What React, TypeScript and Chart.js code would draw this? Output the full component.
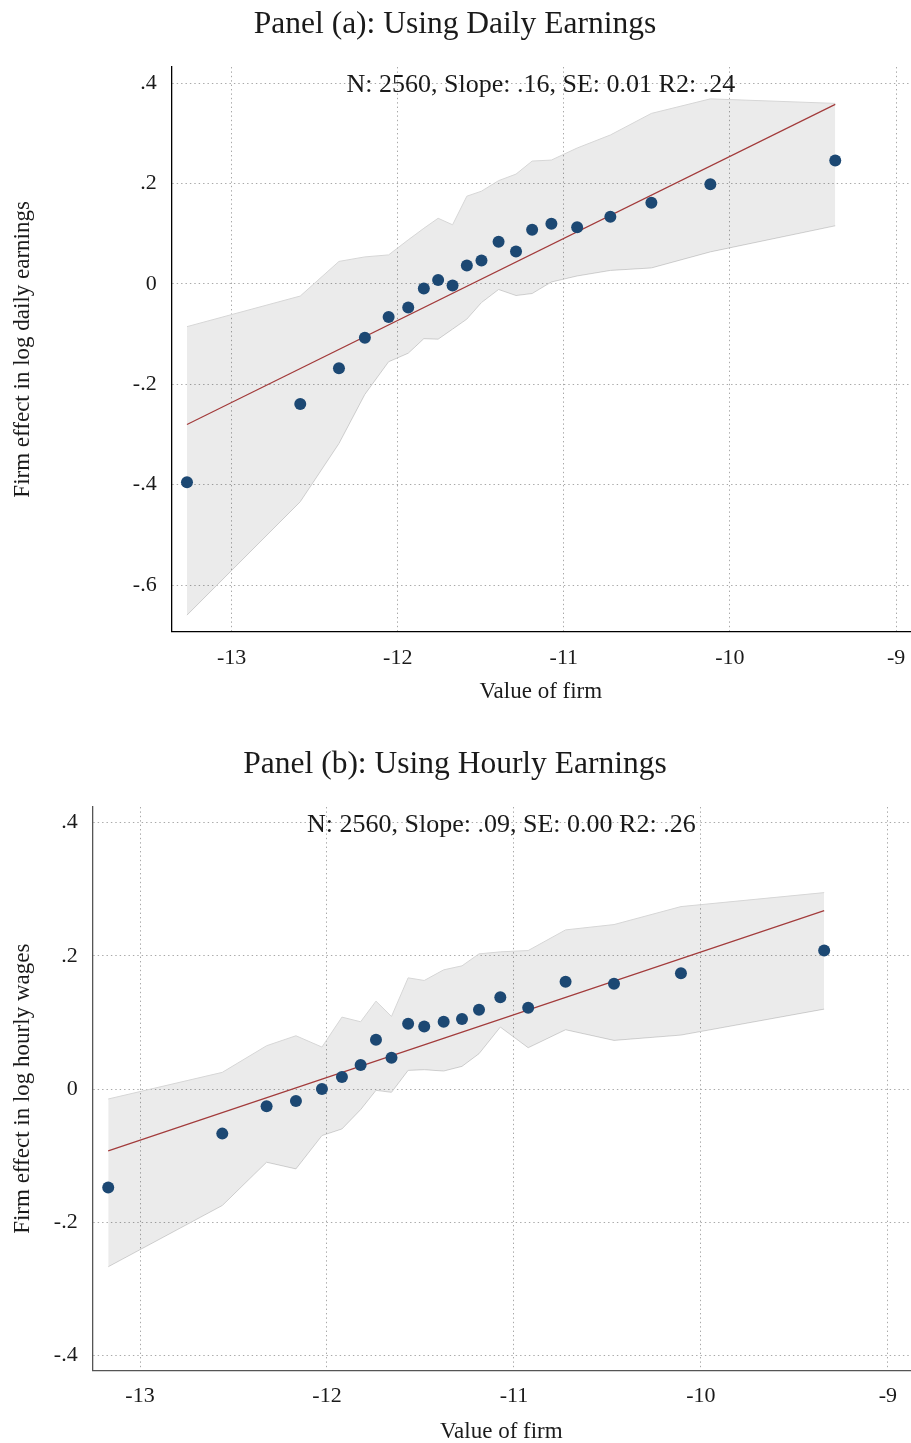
import React, { useEffect, useRef } from "react";
import { Chart, registerables } from "chart.js";

Chart.register(...registerables);

// ---------- Panel (a): daily earnings ----------
const xA = [-13.269, -12.587, -12.354, -12.198, -12.055, -11.937, -11.843, -11.757, -11.670, -11.584, -11.496, -11.393, -11.288, -11.191, -11.075, -10.920, -10.720, -10.473, -10.118, -9.366];
const yA = [-0.395, -0.239, -0.168, -0.107, -0.066, -0.047, -0.009, 0.008, -0.003, 0.037, 0.047, 0.084, 0.065, 0.108, 0.120, 0.113, 0.134, 0.162, 0.199, 0.246];
const upperA = [-0.085, -0.024, 0.045, 0.054, 0.058, 0.088, 0.111, 0.131, 0.118, 0.175, 0.185, 0.206, 0.219, 0.245, 0.247, 0.271, 0.297, 0.340, 0.369, 0.360];
const lowerA = [-0.660, -0.434, -0.318, -0.220, -0.155, -0.138, -0.109, -0.110, -0.090, -0.070, -0.037, -0.011, -0.023, -0.019, 0.004, 0.016, 0.027, 0.032, 0.064, 0.116];
const fitXA = [-13.269, -9.366];
const fitYA = [-0.280, 0.358];
const yTicksA = [-0.6, -0.4, -0.2, 0, 0.2, 0.4];
const yLabelsA = ["-.6", "-.4", "-.2", "0", ".2", ".4"];

// ---------- Panel (b): hourly earnings ----------
const xB = [-13.170, -12.560, -12.323, -12.166, -12.027, -11.920, -11.820, -11.738, -11.655, -11.566, -11.480, -11.376, -11.278, -11.187, -11.073, -10.924, -10.724, -10.465, -10.107, -9.341];
const yB = [-0.148, -0.067, -0.026, -0.018, 0.000, 0.018, 0.036, 0.074, 0.047, 0.098, 0.094, 0.101, 0.105, 0.119, 0.138, 0.122, 0.161, 0.158, 0.174, 0.208];
const upperB = [-0.015, 0.025, 0.065, 0.080, 0.063, 0.108, 0.101, 0.132, 0.109, 0.167, 0.163, 0.179, 0.185, 0.203, 0.206, 0.208, 0.239, 0.247, 0.274, 0.295];
const lowerB = [-0.267, -0.175, -0.110, -0.120, -0.070, -0.060, -0.031, -0.002, -0.005, 0.028, 0.029, 0.027, 0.034, 0.053, 0.093, 0.062, 0.089, 0.073, 0.081, 0.120];
const fitXB = [-13.170, -9.341];
const fitYB = [-0.093, 0.268];
const yTicksB = [-0.4, -0.2, 0, 0.2, 0.4];
const yLabelsB = ["-.4", "-.2", "0", ".2", ".4"];

// ---------- shared x axis ----------
const xTicks = [-13, -12, -11, -10, -9];
const xLabels = ["-13", "-12", "-11", "-10", "-9"];

const FONT = '"Liberation Serif", "Times New Roman", serif';
const TEXT = "#1a1a1a";

const zip = (xs: number[], ys: number[]) => xs.map((x, i) => ({ x, y: ys[i] }));

interface PanelSpec {
  title: string;
  note: string;
  yTitle: string;
  xs: number[];
  ys: number[];
  up: number[];
  lo: number[];
  fx: number[];
  fy: number[];
  yTicks: number[];
  yLabels: string[];
  xMin: number;
  xMax: number;
  yMin: number;
  yMax: number;
  yAxisWidth: number;
  xAxisHeight: number;
  axisColor: string;
}

function makeConfig(p: PanelSpec): any {
  const notePlugin = {
    id: "note",
    afterDraw(chart: any) {
      const { ctx, chartArea } = chart;
      ctx.save();
      ctx.font = `26px ${FONT}`;
      ctx.fillStyle = TEXT;
      ctx.textAlign = "center";
      ctx.textBaseline = "middle";
      ctx.fillText(p.note, (chartArea.left + chartArea.right) / 2, chartArea.top + 18);
      ctx.restore();
    },
  };
  return {
    type: "scatter",
    data: {
      datasets: [
        {
          data: zip(p.xs, p.ys),
          showLine: false,
          pointRadius: 6,
          pointHoverRadius: 6,
          backgroundColor: "#1c4873",
          borderWidth: 0,
        },
        {
          data: zip(p.fx, p.fy),
          showLine: true,
          pointRadius: 0,
          borderColor: "#a23b3b",
          borderWidth: 1.2,
          fill: false,
        },
        {
          data: zip(p.xs, p.up),
          showLine: true,
          pointRadius: 0,
          borderColor: "#d6d6d6",
          borderWidth: 1,
          backgroundColor: "rgba(0,0,0,0.08)",
          fill: "+1",
        },
        {
          data: zip(p.xs, p.lo),
          showLine: true,
          pointRadius: 0,
          borderColor: "#d6d6d6",
          borderWidth: 1,
          fill: false,
        },
      ],
    },
    options: {
      responsive: false,
      animation: false,
      events: [],
      layout: { autoPadding: false, padding: { left: 0, right: 1, top: 0, bottom: 0 } },
      plugins: {
        legend: { display: false },
        tooltip: { enabled: false },
        title: {
          display: true,
          text: p.title,
          color: TEXT,
          font: { family: FONT, size: 31.5, weight: "normal", lineHeight: 1.2 },
          padding: { top: 5.4, bottom: 23.8 },
        },
      },
      scales: {
        x: {
          type: "linear",
          min: p.xMin,
          max: p.xMax,
          afterBuildTicks: (axis: any) => {
            axis.ticks = xTicks.map((v) => ({ value: v }));
          },
          afterFit: (axis: any) => {
            axis.height = p.xAxisHeight;
            axis.paddingLeft = 0;
            axis.paddingRight = 0;
          },
          ticks: {
            autoSkip: false,
            maxRotation: 0,
            padding: 13,
            color: TEXT,
            font: { family: FONT, size: 22 },
            callback: (v: number) => {
              const i = xTicks.indexOf(v);
              return i >= 0 ? xLabels[i] : "";
            },
          },
          grid: {
            drawTicks: false,
            color: "#a8a8a8",
            lineWidth: 1,
          },
          border: { display: true, color: p.axisColor, width: 1.3, dash: [1.4, 3] },
          title: {
            display: true,
            text: "Value of firm",
            color: TEXT,
            font: { family: FONT, size: 23, lineHeight: 1.2 },
            padding: { top: 0, bottom: 14.2 },
          },
        },
        y: {
          type: "linear",
          min: p.yMin,
          max: p.yMax,
          afterBuildTicks: (axis: any) => {
            axis.ticks = p.yTicks.map((v) => ({ value: v }));
          },
          afterFit: (axis: any) => {
            axis.width = p.yAxisWidth;
            axis.paddingTop = 0;
            axis.paddingBottom = 0;
          },
          ticks: {
            autoSkip: false,
            padding: 15,
            color: TEXT,
            font: { family: FONT, size: 22 },
            callback: (v: number) => {
              const i = p.yTicks.indexOf(v);
              return i >= 0 ? p.yLabels[i] : "";
            },
          },
          grid: {
            drawTicks: false,
            color: "#a8a8a8",
            lineWidth: 1,
          },
          border: { display: true, color: p.axisColor, width: 1.3, dash: [1.4, 3] },
          title: {
            display: true,
            text: p.yTitle,
            color: TEXT,
            font: { family: FONT, size: 23, lineHeight: 1.2 },
            padding: { top: 9, bottom: 0 },
          },
        },
      },
    },
    plugins: [notePlugin],
  };
}

const panelA: PanelSpec = {
  title: "Panel (a): Using Daily Earnings",
  note: "N: 2560, Slope: .16, SE: 0.01 R2: .24",
  yTitle: "Firm effect in log daily earnings",
  xs: xA,
  ys: yA,
  up: upperA,
  lo: lowerA,
  fx: fitXA,
  fy: fitYA,
  yTicks: yTicksA,
  yLabels: yLabelsA,
  xMin: -13.361,
  xMax: -8.916,
  yMin: -0.693,
  yMax: 0.4325,
  yAxisWidth: 171.7,
  xAxisHeight: 88.3,
  axisColor: "#000000",
};

const panelB: PanelSpec = {
  title: "Panel (b): Using Hourly Earnings",
  note: "N: 2560, Slope: .09, SE: 0.00 R2: .26",
  yTitle: "Firm effect in log hourly wages",
  xs: xB,
  ys: yB,
  up: upperB,
  lo: lowerB,
  fx: fitXB,
  fy: fitYB,
  yTicks: yTicksB,
  yLabels: yLabelsB,
  xMin: -13.253,
  xMax: -8.882,
  yMin: -0.4228,
  yMax: 0.4236,
  yAxisWidth: 92.7,
  xAxisHeight: 89.5,
  axisColor: "#555555",
};

function Panel({ spec, top }: { spec: PanelSpec; top: number }) {
  const ref = useRef<HTMLCanvasElement | null>(null);
  useEffect(() => {
    if (!ref.current) return;
    const chart = new Chart(ref.current, makeConfig(spec));
    return () => chart.destroy();
  }, [spec]);
  return (
    <div style={{ position: "absolute", left: 0, top, width: 911, height: 720 }}>
      <canvas ref={ref} width={911} height={720} style={{ width: 911, height: 720, display: "block" }} />
    </div>
  );
}

export default function App() {
  return (
    <div
      style={{
        position: "absolute",
        left: 0,
        top: 0,
        width: 911,
        height: 1443,
        overflow: "hidden",
        background: "#ffffff",
      }}
    >
      <Panel spec={panelA} top={0} />
      <Panel spec={panelB} top={740} />
    </div>
  );
}
